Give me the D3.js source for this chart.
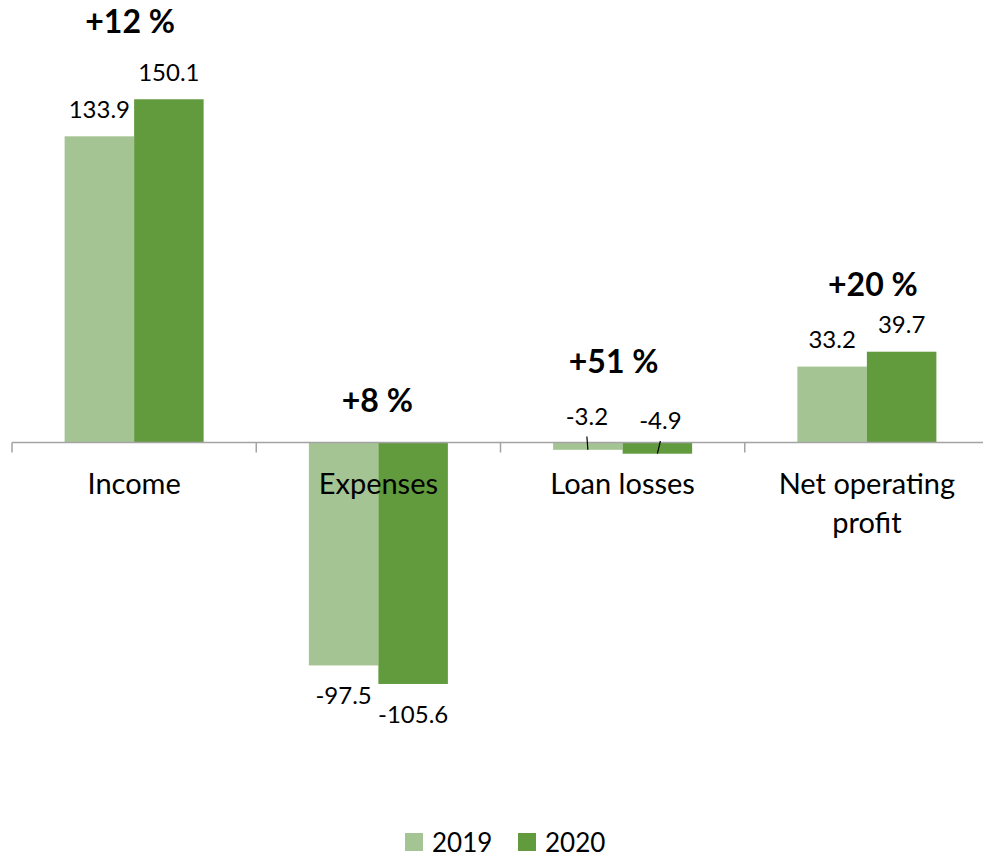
<!DOCTYPE html>
<html>
<head>
<meta charset="utf-8">
<script src="https://cdn.jsdelivr.net/npm/d3@7"></script>
<style>
  html, body { margin: 0; padding: 0; background: #fff; }
  svg { display: block; font-family: Lato, "Open Sans", sans-serif; }
</style>
</head>
<body>
<svg id="chart" width="983" height="857"></svg>
<script>
// Result items, EUR million
const categories = ["Income", "Expenses", "Loan losses", "Net operating profit"];
const categoryLines = [["Income"], ["Expenses"], ["Loan losses"], ["Net operating", "profit"]];
const years = ["2019", "2020"];
const values2019 = [133.9, -97.5, -3.2, 33.2];
const values2020 = [150.1, -105.6, -4.9, 39.7];
const changeLabels = ["+12 %", "+8 %", "+51 %", "+20 %"];
const colors = ["#a4c493", "#629a3e"];

const rows = categories.map((c, i) => ({
  category: c,
  lines: categoryLines[i],
  change: changeLabels[i],
  values: [values2019[i], values2020[i]]
}));

const svg = d3.select("#chart");

const x0 = d3.scaleBand().domain(categories).range([12, 989]).padding(0);
const x1 = d3.scaleBand().domain(years).range([0, x0.bandwidth()])
  .paddingInner(0).paddingOuter(0.757);
const y = d3.scaleLinear().domain([-150, 150]).range([785.5, 99.5]);
const color = d3.scaleOrdinal().domain(years).range(colors);

// bars
const groups = svg.append("g").selectAll("g").data(rows).join("g")
  .attr("transform", d => `translate(${x0(d.category)},0)`);

groups.selectAll("rect").data(d => d.values.map((v, k) => ({ year: years[k], v, cat: d.category })))
  .join("rect")
  .attr("x", d => x1(d.year))
  .attr("width", x1.bandwidth())
  .attr("y", d => y(Math.max(0, d.v)))
  .attr("height", d => Math.abs(y(d.v) - y(0)))
  .attr("fill", d => color(d.year));

// category axis at zero
const axis = svg.append("g").attr("transform", `translate(0,${y(0)})`);
axis.append("line").attr("x1", 12).attr("x2", 989).attr("y1", 0).attr("y2", 0)
  .attr("stroke", "#a3a3a3").attr("stroke-width", 1.5);
const boundaries = categories.map(c => x0(c)).concat([x0.range()[1]]);
axis.selectAll("line.tick").data(boundaries).join("line").attr("class", "tick")
  .attr("x1", d => d).attr("x2", d => d).attr("y1", 0).attr("y2", 10)
  .attr("stroke", "#a3a3a3").attr("stroke-width", 1.5);

// category labels (drawn over the bars)
const catText = svg.append("g").selectAll("text").data(rows).join("text")
  .attr("x", d => x0(d.category) + x0.bandwidth() / 2)
  .attr("y", 494)
  .attr("text-anchor", "middle")
  .attr("font-size", 29)
  .attr("fill", "#000");
catText.selectAll("tspan").data(d => d.lines).join("tspan")
  .attr("x", function () { return d3.select(this.parentNode).attr("x"); })
  .attr("dy", (d, i) => i === 0 ? 0 : 39)
  .text(d => d);

// value labels
const barCenter = (cat, year) => x0(cat) + x1(year) + x1.bandwidth() / 2;
const valueData = [];
rows.forEach((r, i) => r.values.forEach((v, k) => valueData.push({ cat: r.category, year: years[k], v, i, k })));

// small values sit above the axis with a leader line back to the bar
const isSmall = d => Math.abs(d.v) < 10;
const smallOffset = [{ dx: -1, dy: -18 }, { dx: 3, dy: -13.5 }];

const labelPos = d => {
  const cx = barCenter(d.cat, d.year);
  if (isSmall(d)) {
    const o = smallOffset[d.k];
    return { x: cx + o.dx, y: y(0) + o.dy };
  }
  return d.v >= 0 ? { x: cx, y: y(d.v) - 18.5 } : { x: cx, y: y(d.v) + 39 };
};

svg.append("g").selectAll("line").data(valueData.filter(isSmall)).join("line")
  .attr("x1", d => labelPos(d).x)
  .attr("y1", d => labelPos(d).y + 12)
  .attr("x2", d => barCenter(d.cat, d.year))
  .attr("y2", d => y(d.v))
  .attr("stroke", "#000").attr("stroke-width", 1.2);

svg.append("g").selectAll("text").data(valueData).join("text")
  .attr("x", d => labelPos(d).x)
  .attr("y", d => labelPos(d).y)
  .attr("text-anchor", "middle")
  .attr("font-size", 24)
  .attr("fill", "#000")
  .text(d => d3.format(".1f")(d.v).replace("−", "-"));

// change labels above each group
const changePos = [{ dx: -4, y: 33 }, { dx: -1, y: 412 }, { dx: -9, y: 373 }, { dx: 6, y: 296 }];
svg.append("g").selectAll("text").data(rows).join("text")
  .attr("x", (d, i) => x0(d.category) + x0.bandwidth() / 2 + changePos[i].dx)
  .attr("y", (d, i) => changePos[i].y)
  .attr("text-anchor", "middle")
  .attr("font-size", 32)
  .attr("font-weight", "bold")
  .attr("fill", "#000")
  .text(d => d.change);

// legend
const legend = svg.append("g").selectAll("g").data(years).join("g")
  .attr("transform", (d, i) => `translate(${405 + i * 113},833)`);
legend.append("rect").attr("width", 18).attr("height", 18).attr("fill", d => color(d));
legend.append("text").attr("x", 27).attr("y", 19).attr("font-size", 26).attr("fill", "#000").text(d => d);
</script>
</body>
</html>
